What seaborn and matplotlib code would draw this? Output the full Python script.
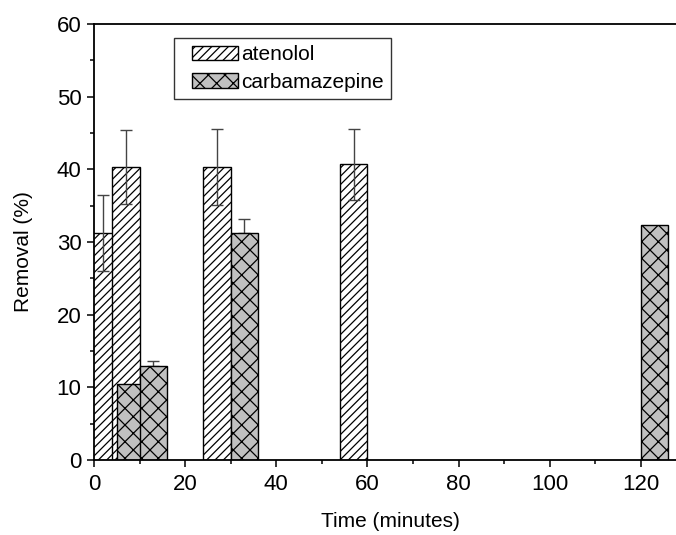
import numpy as np
import matplotlib
matplotlib.use("Agg")
import matplotlib.pyplot as plt
import seaborn as sns
from matplotlib.offsetbox import HPacker, DrawingArea

# ---- data ----
times = [5, 10, 30, 60, 120]
atenolol = [31.2, 40.3, 40.3, 40.7, np.nan]
atenolol_err = [5.2, 5.1, 5.2, 4.9, np.nan]
carbamazepine = [10.5, 12.9, 31.3, np.nan, 32.3]
carbamazepine_err = [np.nan, 0.7, 1.9, np.nan, np.nan]
series_labels = ["atenolol", "carbamazepine"]
xticks = [0, 20, 40, 60, 80, 100, 120]
yticks = [0, 10, 20, 30, 40, 50, 60]

sns.set_style("ticks")
plt.rcParams["font.family"] = ["Liberation Sans", "DejaVu Sans"]
plt.rcParams["hatch.linewidth"] = 0.9
for k in ["text.color", "axes.labelcolor", "xtick.color", "ytick.color", "axes.edgecolor"]:
    plt.rcParams[k] = "black"

fig = plt.figure(figsize=(6.76, 5.35), dpi=100)
ax = fig.add_axes([94 / 676, 75 / 535, 582 / 676, 436 / 535])

bar_w = 6
t = np.array(times, dtype=float)
a = np.array(atenolol)
c = np.array(carbamazepine)
ma = ~np.isnan(a)
mc = ~np.isnan(c)

ax.bar(t[ma], a[ma], width=-bar_w, align="edge", facecolor="white",
       edgecolor="black", linewidth=1.0, hatch="////", label=series_labels[0], zorder=2)
ax.bar(t[mc], c[mc], width=bar_w, align="edge", facecolor="#c0c0c0",
       edgecolor="black", linewidth=1.0, hatch="xx", label=series_labels[1], zorder=2)

# error bars
ae = np.array(atenolol_err)
me = ma & ~np.isnan(ae)
ax.errorbar(t[me] - bar_w / 2, a[me], yerr=ae[me], fmt="none", ecolor="#444444",
            elinewidth=1.0, capsize=4, capthick=1.0, zorder=3)
ce = np.array(carbamazepine_err)
mce = mc & ~np.isnan(ce)
ax.errorbar(t[mce] + bar_w / 2, c[mce], yerr=[np.zeros(mce.sum()), ce[mce]], fmt="none",
            ecolor="#444444", elinewidth=1.0, capsize=4, capthick=1.0, zorder=1.5)

ax.set_xlim(0, 582 / 4.558)
ax.set_ylim(0, 60)
ax.set_xticks(xticks)
ax.set_yticks(yticks)
ax.set_xticks(np.arange(10, 130, 20), minor=True)
ax.set_yticks(np.arange(5, 60, 10), minor=True)
ax.tick_params(axis="both", which="major", direction="out", length=5, width=1.1,
               labelsize=16, color="black", labelcolor="black")
ax.tick_params(axis="x", which="major", pad=5)
ax.tick_params(axis="y", which="major", pad=4)
ax.tick_params(axis="both", which="minor", direction="out", length=3, width=1.1, color="black")
ax.tick_params(top=False, right=False, which="both")

for side in ["left", "bottom", "top"]:
    ax.spines[side].set_linewidth(1.3)
    ax.spines[side].set_color("black")
ax.spines["right"].set_visible(False)

ax.set_xlabel("Time (minutes)", fontsize=15)
ax.set_ylabel("Removal (%)", fontsize=15)
ax.xaxis.set_label_coords((390 - 94) / 582, (460 - 512) / 436)
ax.yaxis.set_label_coords((33 - 94) / 582, (460 - 252) / 436)

leg = ax.legend(loc="upper left", bbox_to_anchor=((174 - 94) / 582, (460 - 38) / 436),
                borderaxespad=0, frameon=True, fancybox=False, edgecolor="black",
                fontsize=15, handlelength=2.2, handleheight=0.7, handletextpad=0.15,
                labelspacing=0.4, borderpad=0.35)
leg.get_frame().set_linewidth(1.0)
# extra left indent for the legend entries
try:
    kids = leg._legend_box._children
    kids[-1] = HPacker(pad=0, sep=0, align="center",
                       children=[DrawingArea(8, 1), kids[-1]])
except Exception:
    pass

fig.savefig("out.png", dpi=100)
